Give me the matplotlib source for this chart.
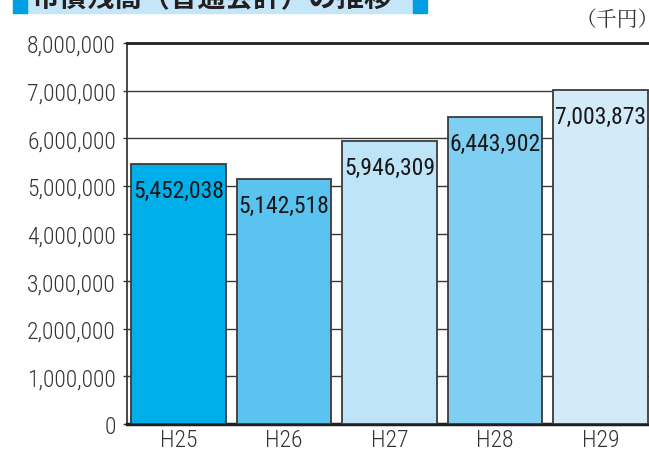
import matplotlib
matplotlib.use('Agg')
import matplotlib.pyplot as plt
from matplotlib.patches import Rectangle
from matplotlib.ticker import FuncFormatter

# data
years = ['H25', 'H26', 'H27', 'H28', 'H29']
values = [5452038, 5142518, 5946309, 6443902, 7003873]
bar_colors = ['#00aeea', '#5bc3f0', '#bee4f8', '#7fcff3', '#d3ebf9']
title = '市債残高（普通会計）の推移'
unit = '（千円）'

narrow = ['Roboto Condensed', 'Archivo Narrow', 'DejaVu Sans']
cjk = ['Noto Sans CJK JP', 'DejaVu Sans']
cjk_serif = ['Noto Serif CJK JP', 'Noto Sans CJK JP', 'DejaVu Sans']

W, H = 649, 452
fig = plt.figure(figsize=(W / 100, H / 100), dpi=100)

# axes box in pixels
left, right, top, bottom = 127, 652, 44, 425
ax = fig.add_axes([left / W, (H - bottom) / H, (right - left) / W, (bottom - top) / H])

x = list(range(len(years)))
ax.bar(x, values, width=0.9, color=bar_colors, edgecolor='#3a3a3a',
       linewidth=1.3, zorder=3)

for xi, v in zip(x, values):
    ax.annotate(f'{v:,}', (xi, v), xytext=(0, -19), textcoords='offset points',
                ha='center', va='center', fontsize=17, fontweight='normal',
                color='#1a1718', family=narrow, zorder=4)

ax.set_xlim(-0.488, 4.488)
ax.set_ylim(0, 8000000)
ax.set_yticks(range(0, 8000001, 1000000))
ax.yaxis.set_major_formatter(FuncFormatter(lambda v, p: f'{int(v):,}'))
ax.grid(axis='y', color='#3a3a3a', linewidth=1.0, zorder=1)
ax.set_axisbelow(True)

ax.set_xticks(x)
ax.set_xticklabels(years)
ax.tick_params(axis='x', length=0, pad=3)
ax.tick_params(axis='y', length=3, width=1, color='#3a3a3a', pad=5)
for lab in ax.get_xticklabels() + ax.get_yticklabels():
    lab.set_family(narrow)
    lab.set_fontsize(17)
    lab.set_fontweight('light')
    lab.set_color('#333333')

ax.spines['right'].set_visible(False)
ax.spines['top'].set_linewidth(2)
ax.spines['top'].set_color('#231f20')
ax.spines['bottom'].set_linewidth(2.5)
ax.spines['bottom'].set_color('#231f20')
ax.spines['left'].set_linewidth(1.3)
ax.spines['left'].set_color('#3a3a3a')

# title band (cut at the top edge)
def px_rect(x0, y0, x1, y1, c):
    fig.patches.append(Rectangle((x0 / W, 1 - y1 / H), (x1 - x0) / W, (y1 - y0) / H,
                                 transform=fig.transFigure, color=c, zorder=0))

px_rect(13, 0, 413, 14, '#c4e6f8')
px_rect(13, 0, 27, 14, '#009fe3')
px_rect(413, 0, 427, 14, '#009fe3')
fig.text(212 / W, 1 + 1 / H, title, ha='center', va='center', fontsize=20,
         fontweight='bold', family=cjk, color='#231f20')

fig.text(1.015, 1 - 20 / H, unit, ha='right', va='center', fontsize=15,
         family=cjk_serif, color='#333333')

fig.savefig('out.png', dpi=100)
